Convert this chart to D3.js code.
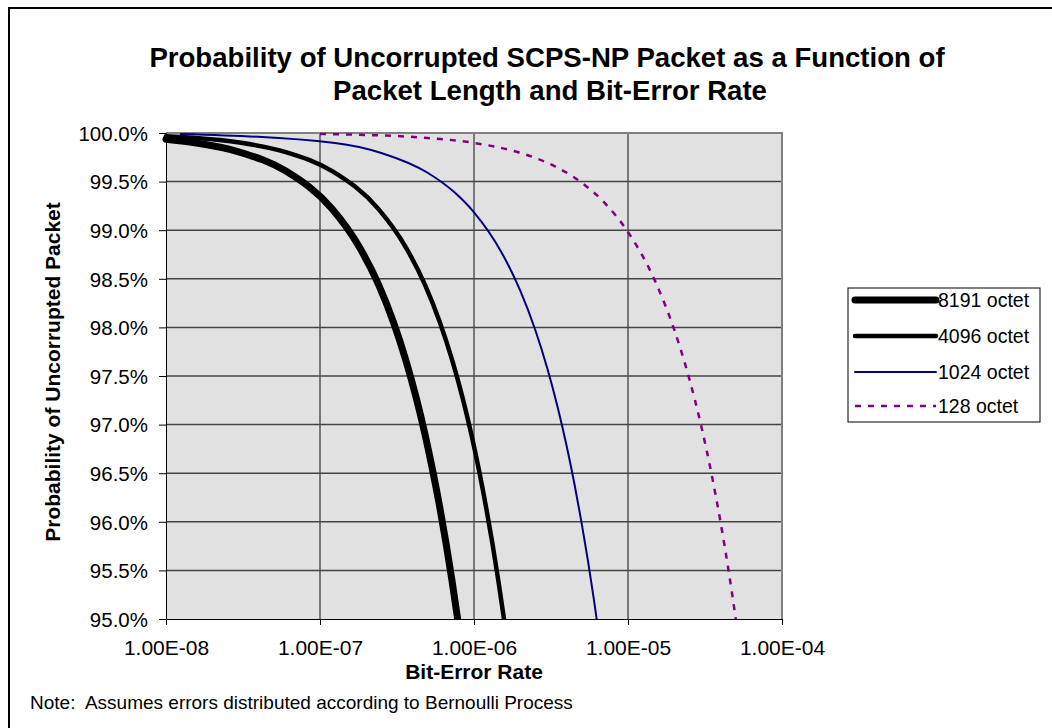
<!DOCTYPE html>
<html>
<head>
<meta charset="utf-8">
<script src="https://cdn.jsdelivr.net/npm/d3@7"></script>
<style>
  body { margin: 0; background: #fff; }
  svg text { font-family: "Liberation Sans", Arial, sans-serif; fill: #000; }
</style>
</head>
<body>
<div id="chart"></div>
<script>
// Dữ liệu (BER, % xác suất gói không lỗi)
const seriesNames = ["8191 octet", "4096 octet", "1024 octet", "128 octet"];

const ber8191 = [1e-8, 1.5e-8, 3e-8, 6e-8, 1.2e-7, 1.8e-7, 2.4e-7, 3e-7, 3.6e-7, 4.2e-7, 4.8e-7, 5.4e-7, 6e-7, 6.6e-7, 7.2e-7, 7.8e-7, 8.4e-7];
const p8191 = [99.935, 99.902, 99.804, 99.608, 99.217, 98.827, 98.440, 98.053, 97.668, 97.285, 96.904, 96.523, 96.145, 95.767, 95.392, 95.017, 94.644];

const ber4096 = [1e-8, 1.5e-8, 3e-8, 6e-8, 1.2e-7, 2.4e-7, 3.6e-7, 4.8e-7, 6e-7, 7.2e-7, 8.4e-7, 9.6e-7, 1.08e-6, 1.2e-6, 1.32e-6, 1.44e-6, 1.56e-6, 1.68e-6];
const p4096 = [99.967, 99.951, 99.902, 99.804, 99.608, 99.217, 98.827, 98.440, 98.053, 97.668, 97.285, 96.903, 96.523, 96.144, 95.767, 95.391, 95.017, 94.644];

const ber1024 = [1.25e-8, 1.25e-7, 2.5e-7, 5e-7, 7.5e-7, 1e-6, 1.5e-6, 2e-6, 2.5e-6, 3e-6, 3.5e-6, 4e-6, 4.5e-6, 5e-6, 5.5e-6, 6e-6, 6.5e-6, 7e-6];
const p1024 = [99.990, 99.898, 99.795, 99.591, 99.387, 99.184, 98.779, 98.375, 97.973, 97.572, 97.174, 96.777, 96.381, 95.987, 95.595, 95.204, 94.815, 94.427];

const ber128 = [1e-7, 2e-7, 5e-7, 1e-6, 2e-6, 3e-6, 5e-6, 7e-6, 1e-5, 1.5e-5, 2e-5, 2.5e-5, 3e-5, 3.5e-5, 4e-5, 4.5e-5, 5e-5, 5.5e-5];
const p128 = [99.990, 99.980, 99.949, 99.898, 99.795, 99.693, 99.489, 99.286, 98.981, 98.476, 97.973, 97.472, 96.975, 96.479, 95.987, 95.496, 95.010, 94.524];

const xTickValues = [1e-8, 1e-7, 1e-6, 1e-5, 1e-4];
const xTickLabels = ["1.00E-08", "1.00E-07", "1.00E-06", "1.00E-05", "1.00E-04"];
const yTickValues = [95, 95.5, 96, 96.5, 97, 97.5, 98, 98.5, 99, 99.5, 100];

// Kích thước
const W = 1052, H = 728;
const plot = { left: 166, right: 782, top: 133, bottom: 619 };

const svg = d3.select("#chart").append("svg")
    .attr("width", W)
    .attr("height", H);

// Khung ngoài (chỉ thấy cạnh trái và trên)
svg.append("rect")
    .attr("x", 9).attr("y", 8)
    .attr("width", W + 20).attr("height", H + 20)
    .attr("fill", "none")
    .attr("stroke", "#000")
    .attr("stroke-width", 2);

// Tiêu đề
const title = svg.append("text")
    .attr("text-anchor", "middle")
    .style("font-size", "27.6px")
    .style("font-weight", "bold");
title.append("tspan").attr("x", 547).attr("y", 67)
    .text("Probability of Uncorrupted SCPS-NP Packet as a Function of");
title.append("tspan").attr("x", 550).attr("y", 100)
    .text("Packet Length and Bit-Error Rate");

// Thang đo
const x = d3.scaleLog()
    .domain([1e-8, 1e-4])
    .range([plot.left, plot.right]);

const y = d3.scaleLinear()
    .domain([95, 100])
    .range([plot.bottom, plot.top]);

// Nền vùng vẽ
svg.append("rect")
    .attr("x", plot.left).attr("y", plot.top)
    .attr("width", plot.right - plot.left)
    .attr("height", plot.bottom - plot.top)
    .attr("fill", "#e1e1e1");

// Lưới dọc
svg.append("g")
    .selectAll("line")
    .data(xTickValues.slice(1, -1))
    .enter()
    .append("line")
    .attr("x1", d => x(d)).attr("x2", d => x(d))
    .attr("y1", plot.top).attr("y2", plot.bottom)
    .attr("stroke", "#555")
    .attr("stroke-width", 1.5);

// Lưới ngang
svg.append("g")
    .selectAll("line")
    .data(yTickValues.slice(1, -1))
    .enter()
    .append("line")
    .attr("x1", plot.left).attr("x2", plot.right)
    .attr("y1", d => y(d)).attr("y2", d => y(d))
    .attr("stroke", "#444")
    .attr("stroke-width", 1.5);

// Viền vùng vẽ
svg.append("path")
    .attr("d", `M${plot.left},${plot.top}H${plot.right}V${plot.bottom}`)
    .attr("fill", "none")
    .attr("stroke", "#808080")
    .attr("stroke-width", 2);

// Trục X
const xAxis = svg.append("g")
    .attr("transform", `translate(0,${plot.bottom})`)
    .call(d3.axisBottom(x)
        .tickValues(xTickValues)
        .tickFormat((d, i) => xTickLabels[i])
        .tickSize(6)
        .tickPadding(14));
xAxis.select(".domain").attr("stroke", "#000");
xAxis.selectAll("text")
    .style("font-size", "21px")
    .attr("dy", null)
    .attr("y", 36);

// Trục Y
const yAxis = svg.append("g")
    .attr("transform", `translate(${plot.left},0)`)
    .call(d3.axisLeft(y)
        .tickValues(yTickValues)
        .tickFormat(d => d3.format(".1f")(d) + "%")
        .tickSize(7)
        .tickPadding(11));
yAxis.select(".domain").attr("stroke", "#000");
yAxis.selectAll("text")
    .style("font-size", "20.5px")
    .attr("dy", "0.36em");

// Tên trục
svg.append("text")
    .attr("x", 474).attr("y", 679)
    .attr("text-anchor", "middle")
    .style("font-size", "21px")
    .style("font-weight", "bold")
    .text("Bit-Error Rate");

svg.append("text")
    .attr("transform", "translate(60,372) rotate(-90)")
    .attr("text-anchor", "middle")
    .style("font-size", "21px")
    .style("font-weight", "bold")
    .text("Probability of Uncorrupted Packet");

// Ghi chú
svg.append("text")
    .attr("x", 30).attr("y", 709)
    .style("font-size", "19px")
    .attr("xml:space", "preserve")
    .text("Note:  Assumes errors distributed according to Bernoulli Process");

// Đường dữ liệu
const series = [
    { name: seriesNames[0], ber: ber8191, p: p8191, color: "#000", width: 7, dash: null },
    { name: seriesNames[1], ber: ber4096, p: p4096, color: "#000", width: 4.5, dash: null },
    { name: seriesNames[2], ber: ber1024, p: p1024, color: "#000080", width: 2, dash: null },
    { name: seriesNames[3], ber: ber128, p: p128, color: "#800080", width: 2.5, dash: "6,7" }
];

svg.append("clipPath").attr("id", "clip")
    .append("rect")
    .attr("x", 0).attr("y", 0)
    .attr("width", plot.right)
    .attr("height", plot.bottom);

const line = d3.line()
    .x(d => x(d[0]))
    .y(d => y(d[1]))
    .curve(d3.curveMonotoneX);

svg.append("g")
    .attr("clip-path", "url(#clip)")
    .selectAll("path")
    .data(series.slice().reverse())
    .enter()
    .append("path")
    .attr("d", s => line(s.ber.map((b, i) => [b, s.p[i]])))
    .attr("fill", "none")
    .attr("stroke", s => s.color)
    .attr("stroke-width", s => s.width)
    .attr("stroke-dasharray", s => s.dash)
    .attr("stroke-linejoin", "round")
    .attr("stroke-linecap", s => s.dash ? "butt" : "round");

// Chú giải
const legend = svg.append("g");
legend.append("rect")
    .attr("x", 848).attr("y", 288)
    .attr("width", 192).attr("height", 134)
    .attr("fill", "#fff")
    .attr("stroke", "#000")
    .attr("stroke-width", 1);

const rowY = [300, 336, 372, 406];
series.forEach((s, i) => {
    legend.append("line")
        .attr("x1", 855).attr("x2", 936)
        .attr("y1", rowY[i]).attr("y2", rowY[i])
        .attr("stroke", s.color)
        .attr("stroke-width", s.width)
        .attr("stroke-dasharray", s.dash)
        .attr("stroke-linecap", s.dash ? "butt" : "round");
    legend.append("text")
        .attr("x", 938).attr("y", rowY[i])
        .attr("dy", "0.36em")
        .style("font-size", "19.5px")
        .text(s.name);
});
</script>
</body>
</html>
